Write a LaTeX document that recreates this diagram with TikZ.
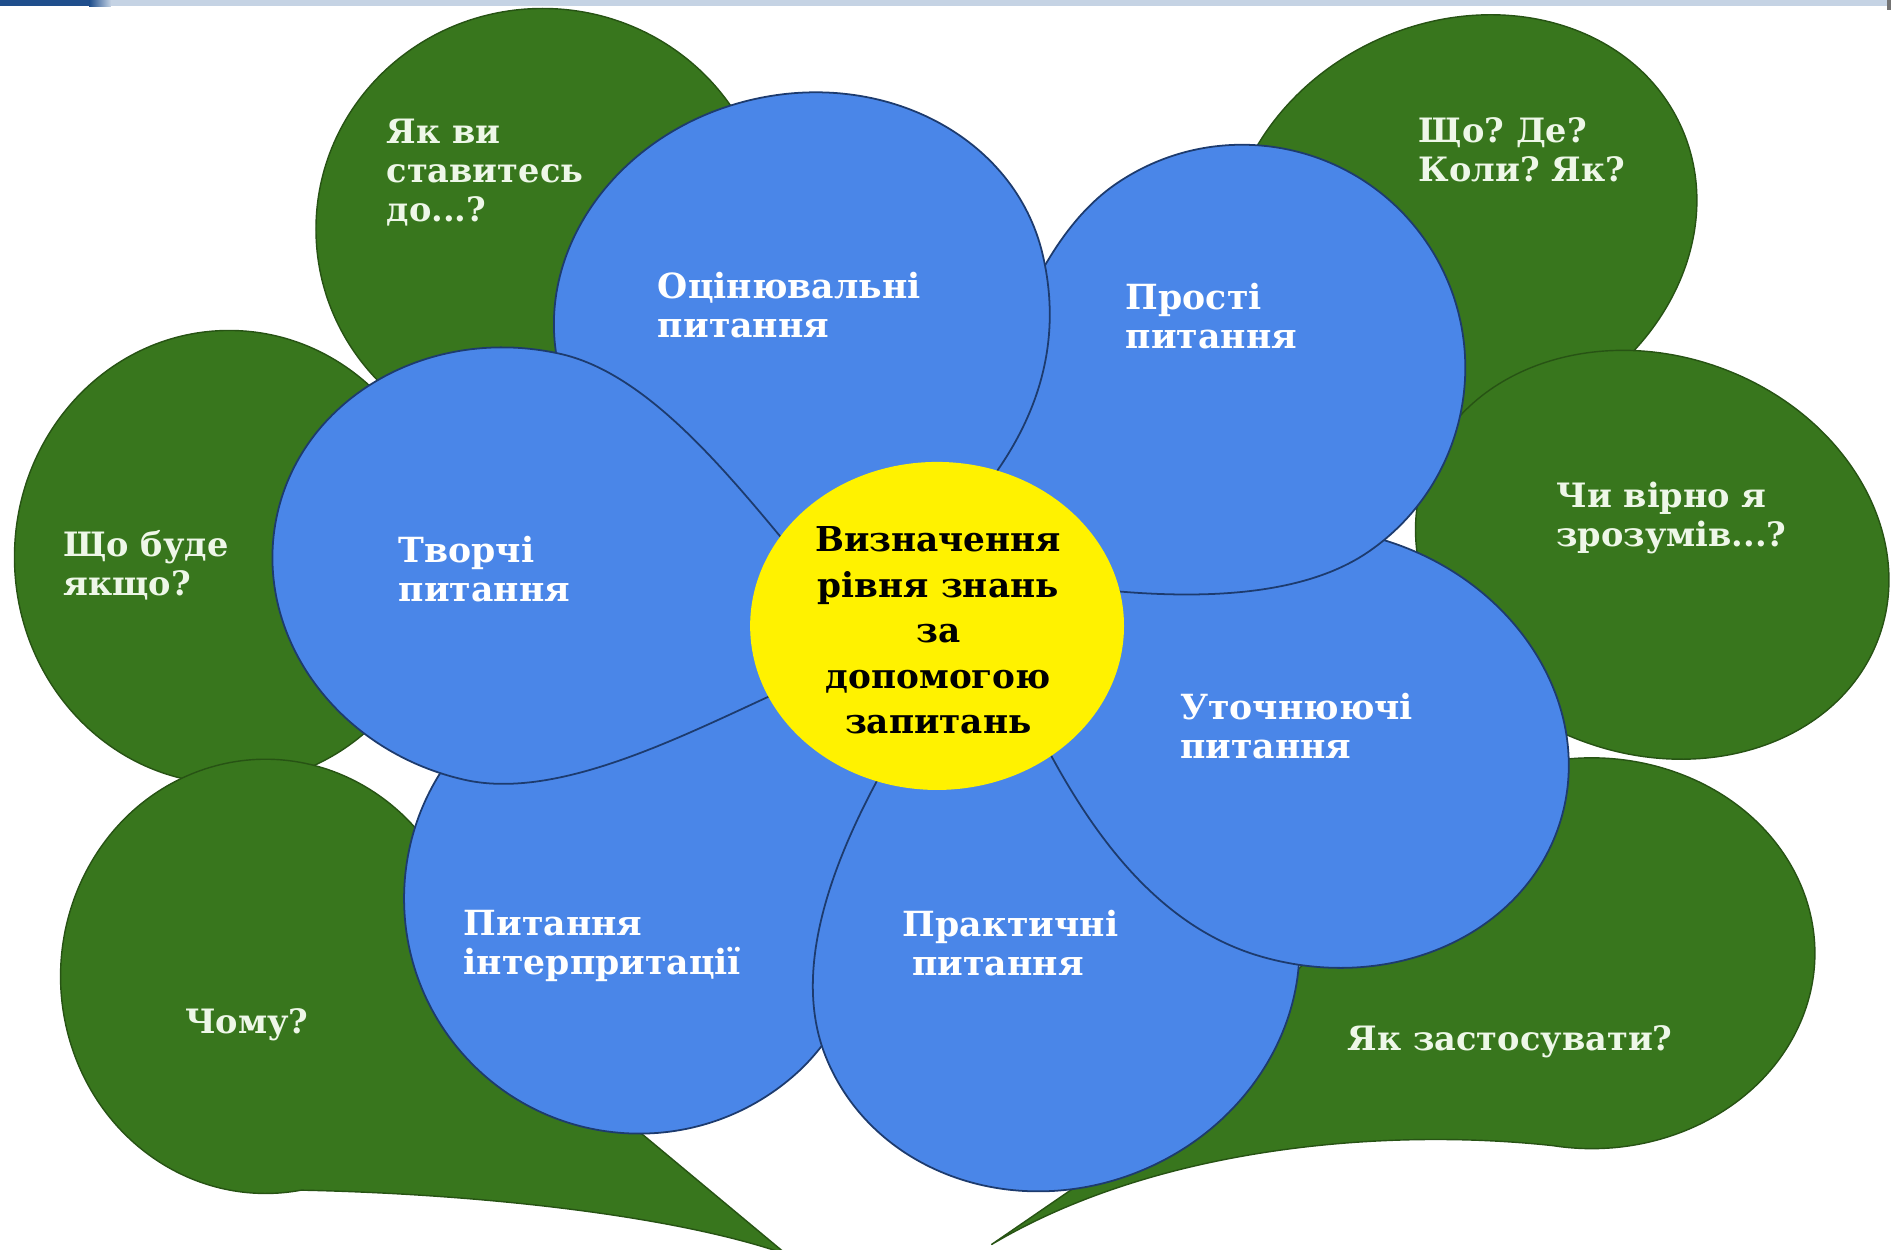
\documentclass[tikz,border=0pt]{standalone}
\usepackage{fontspec}
\setmainfont{DejaVu Serif}
\usepackage{xcolor}
\frenchspacing

\definecolor{petalblue}{HTML}{4A86E8}
\definecolor{leafgreen}{HTML}{38761D}
\definecolor{petalline}{HTML}{1D3B6E}
\definecolor{barlight}{HTML}{C5D3E4}
\definecolor{bardark}{HTML}{1F4E8C}
\definecolor{leafink}{HTML}{EEF7E8}

\begin{document}
\begin{tikzpicture}[x=0.012cm, y=-0.012cm,
    leaf/.style={fill=leafgreen, draw=leafgreen!70!black, line width=0.4pt},
    petal/.style={fill=petalblue, draw=petalline, line width=0.5pt},
    leaftext/.style={anchor=north west, align=left, inner sep=0pt, text=leafink, font=\bfseries\fontsize{9.5}{11.1}\selectfont},
    petaltext/.style={anchor=north west, align=left, inner sep=0pt, text=white, font=\bfseries\fontsize{9.8}{11.1}\selectfont},
    centretext/.style={anchor=north, align=center, inner sep=0pt, text=black, font=\bfseries\fontsize{9.7}{12.9}\selectfont}]
        \useasboundingbox (0,0) rectangle (1568,1036);
        \clip (0,0) rectangle (1568,1036);

        % Top bar
        \fill[barlight] (0,0) rectangle (1568,5);
        \fill[bardark] (0,0) rectangle (74,5);
        \shade[left color=bardark, right color=barlight] (74,0) rectangle (92,5);
        \fill[black!55] (1565,0) rectangle (1568,8);

        % Green bubbles
        \draw[leaf] (450,190) ellipse [x radius=188, y radius=183];
        \draw[leaf] (190,462) ellipse [x radius=178, y radius=188];
        \draw[leaf] (380,748) arc [start angle=-20, end angle=-280, x radius=170, y radius=180]
            .. controls (400,990) and (560,1008) .. (652,1040)
            -- (520,930) .. controls (470,870) and (420,800) .. cycle;
        \draw[leaf, rotate around={25:(1212,188)}] (1212,188) ellipse [x radius=200, y radius=170];
        \draw[leaf, rotate around={-20:(1370,460)}] (1370,460) ellipse [x radius=200, y radius=165];
        \draw[leaf] (1146,735) arc [start angle=200, end angle=460, x radius=185, y radius=162]
            .. controls (1150,935) and (960,950) .. (822,1032)
            -- (905,975) .. controls (980,900) and (1080,800) .. cycle;

        % Petals: tip / body centre / outer radius / half width / bulge near the tip
        \foreach \tx/\ty/\cx/\cy/\rad/\wid/\bulge in {740/560/530/745/195/195/0.45, 780/560/875/800/185/205/0.45,
                830/540/1095/620/208/180/0.45, 790/470/1030/305/185/185/0.4,
                720/495/664/258/180/206/0.7, 735/540/425/470/200/181/0.2}{
            \pgfmathsetmacro\ang{atan2(\ty-\cy,\cx-\tx)}
            \pgfmathsetmacro\dist{veclen(\cx-\tx,\cy-\ty)}
            \draw[petal, shift={(\tx,\ty)}, rotate=\ang]
                (0,0) .. controls ({0.25*\dist},{\bulge*\wid}) and ({\dist-0.55*\rad},\wid) .. (\dist,\wid)
                arc [start angle=90, end angle=-90, x radius=\rad, y radius=\wid]
                .. controls ({\dist-0.55*\rad},-\wid) and ({0.25*\dist},{-\bulge*\wid}) .. cycle;
        }

        % Centre
        \fill[yellow] (777,519) ellipse [x radius=155, y radius=136];

        % Nodes
        \node (relate) [leaftext] at (320,98) {Як ви\\ставитесь\\до...?};
        \node (facts) [leaftext] at (1176,97) {Що? Де?\\Коли? Як?};
        \node (whatif) [leaftext] at (52,439) {Що буде\\якщо?};
        \node (check) [leaftext] at (1290,399) {Чи вірно я\\зрозумів...?};
        \node (why) [leaftext] at (153,836) {Чому?};
        \node (apply) [leaftext] at (1117,850) {Як застосувати?};

        \node (evaluative) [petaltext] at (545,225) {Оцінювальні\\питання};
        \node (simple) [petaltext] at (933,234) {Прості\\питання};
        \node (clarifying) [petaltext] at (978,574) {Уточнюючі\\питання};
        \node (practical) [petaltext] at (748,754) {Практичні\\\hspace*{2.7pt}питання};
        \node (interpretive) [petaltext] at (384,754) {Питання\\інтерпритації};
        \node (creative) [petaltext] at (330,444) {Творчі\\питання};

        \node (core) [centretext] at (778,436) {Визначення\\рівня знань\\за\\допомогою\\запитань};
    \end{tikzpicture}
\end{document}
